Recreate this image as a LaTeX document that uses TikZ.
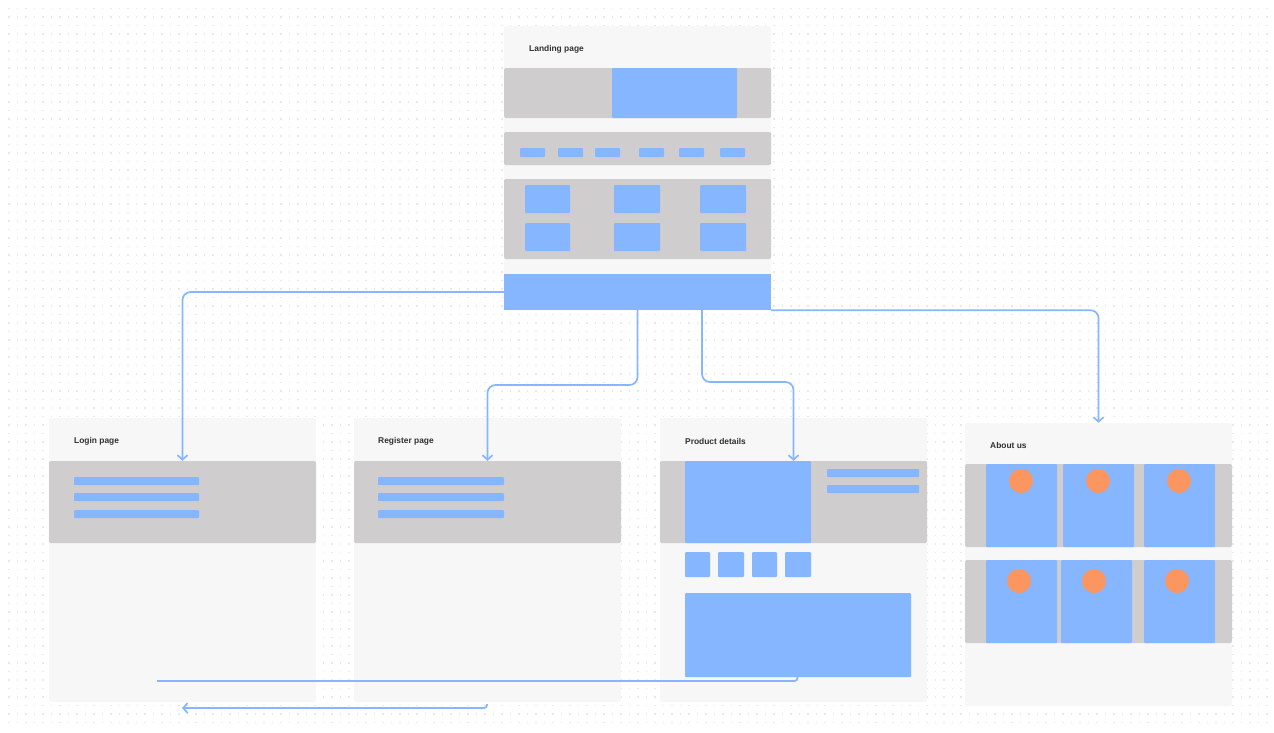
\documentclass[tikz,border=0pt]{standalone}
\usepackage{fontspec}
\setmainfont{Liberation Sans}
\usetikzlibrary{fit,arrows.meta}
\definecolor{pbg}{HTML}{F7F7F7}
\definecolor{gbar}{HTML}{CFCDCE}
\definecolor{blu}{HTML}{85B6FF}
\definecolor{org}{HTML}{FB9660}
\definecolor{dotc}{HTML}{E8E8E8}
\definecolor{txt}{HTML}{303030}
\tikzset{
  panel/.style={fill=pbg, inner sep=0pt, rounded corners=2pt},
  band/.style={fill=gbar, inner sep=0pt, rounded corners=1.5pt},
  blk/.style={fill=blu, inner sep=0pt, rounded corners=1pt},
  face/.style={fill=org, circle, inner sep=0pt, minimum size=24pt},
  ttl/.style={anchor=west, text=txt, font=\fontsize{8.4}{10}\selectfont\bfseries, inner sep=0pt},
  conn/.style={draw=blu, line width=1.7pt, rounded corners=8pt, -{Straight Barb[length=4.5pt,width=10pt]}},
  plain/.style={draw=blu, line width=1.7pt, rounded corners=3pt},
}
\newcommand\bx[6]{\node[#1, fit={(#3,#4) (#5,#6)}] (#2) {};}
\begin{document}
\begin{tikzpicture}[x=1pt,y=-1pt]
\useasboundingbox (0,0) rectangle (1274,732);
% dot grid
\foreach \r in {0,...,84}
  \draw[dotc, line width=1.1pt, dash pattern=on 1.1pt off 7.4pt] (8.4,{8.5+8.5*\r}) -- (1270,{8.5+8.5*\r});

% ---------- Landing page ----------
\bx{panel}{landing}{504}{26}{771}{310}
\node[ttl] (landingt) at (529,49) {Landing page};
\bx{band}{hero}{504}{68}{771}{118}
\bx{blk}{heroimg}{612}{68}{737}{118}
\bx{band}{nav}{504}{132}{771}{165}
\bx{blk}{n1}{520}{148}{545}{157}
\bx{blk}{n2}{558}{148}{583}{157}
\bx{blk}{n3}{595}{148}{620}{157}
\bx{blk}{n4}{639}{148}{664}{157}
\bx{blk}{n5}{679}{148}{704}{157}
\bx{blk}{n6}{720}{148}{745}{157}
\bx{band}{grid}{504}{179}{771}{259}
\bx{blk}{g1}{525}{185}{570}{213}
\bx{blk}{g2}{614}{185}{660}{213}
\bx{blk}{g3}{700}{185}{746}{213}
\bx{blk}{g4}{525}{223}{570}{251}
\bx{blk}{g5}{614}{223}{660}{251}
\bx{blk}{g6}{700}{223}{746}{251}
\node[fill=blu, inner sep=0pt, fit={(504,274) (771,310)}] (cta) {};

% ---------- Login page ----------
\bx{panel}{login}{49}{418}{316}{702}
\node[ttl] (logint) at (74,441) {Login page};
\bx{band}{loginform}{49}{461}{316}{543}
\bx{blk}{l1}{74}{477}{199}{485}
\bx{blk}{l2}{74}{493}{199}{501}
\bx{blk}{l3}{74}{510}{199}{518}

% ---------- Register page ----------
\bx{panel}{register}{354}{418}{621}{702}
\node[ttl] (registert) at (378,441) {Register page};
\bx{band}{regform}{354}{461}{621}{543}
\bx{blk}{r1}{378}{477}{504}{485}
\bx{blk}{r2}{378}{493}{504}{501}
\bx{blk}{r3}{378}{510}{504}{518}

% ---------- Product details ----------
\bx{panel}{product}{660}{418}{927}{702}
\node[ttl] (productt) at (685,441) {Product details};
\bx{band}{pdform}{660}{461}{927}{543}
\bx{blk}{pimg}{685}{461}{811}{543}
\bx{blk}{pl1}{827}{469}{919}{477}
\bx{blk}{pl2}{827}{485}{919}{493}
\bx{blk}{t1}{685}{552}{710}{577}
\bx{blk}{t2}{718}{552}{744}{577}
\bx{blk}{t3}{752}{552}{777}{577}
\bx{blk}{t4}{785}{552}{811}{577}
\bx{blk}{pdesc}{685}{593}{911}{677}

% ---------- About us ----------
\bx{panel}{about}{965}{423}{1232}{706}
\node[ttl] (aboutt) at (990,445) {About us};
\bx{band}{arow1}{965}{464}{1232}{547}
\bx{blk}{c1}{986}{464}{1057}{547}
\bx{blk}{c2}{1063}{464}{1134}{547}
\bx{blk}{c3}{1144}{464}{1215}{547}
\bx{band}{arow2}{965}{560}{1232}{643}
\bx{blk}{c4}{986}{560}{1057}{643}
\bx{blk}{c5}{1061}{560}{1132}{643}
\bx{blk}{c6}{1144}{560}{1215}{643}
\node[face] (f1) at (1021,481) {};
\node[face] (f2) at (1098,481) {};
\node[face] (f3) at (1179,481) {};
\node[face] (f4) at (1019,581) {};
\node[face] (f5) at (1094,581) {};
\node[face] (f6) at (1177,581) {};

% ---------- connectors ----------
\draw[conn] (cta.west) -| (loginform.north);
\coordinate (rbend) at (637.5,385);
\draw[conn] (cta.south) -- (rbend) -| (regform.north);
\coordinate (pstart) at (702,310);
\coordinate (pbend) at (702,382);
\draw[conn] (pstart) -- (pbend) -| (pdform.north);
\draw[conn] (cta.south east) -| (about.north);

\coordinate (b1s) at (797.5,677);
\coordinate (b1c) at (797.5,681);
\coordinate (b1e) at (157,681);
\draw[plain] (b1s) -- (b1c) -- (b1e);
\coordinate (b2s) at (487,704);
\coordinate (b2c) at (487,708);
\coordinate (b2e) at (182,708);
\draw[plain, -{Straight Barb[length=4.5pt,width=10pt]}] (b2s) -- (b2c) -- (b2e);
\end{tikzpicture}
\end{document}
